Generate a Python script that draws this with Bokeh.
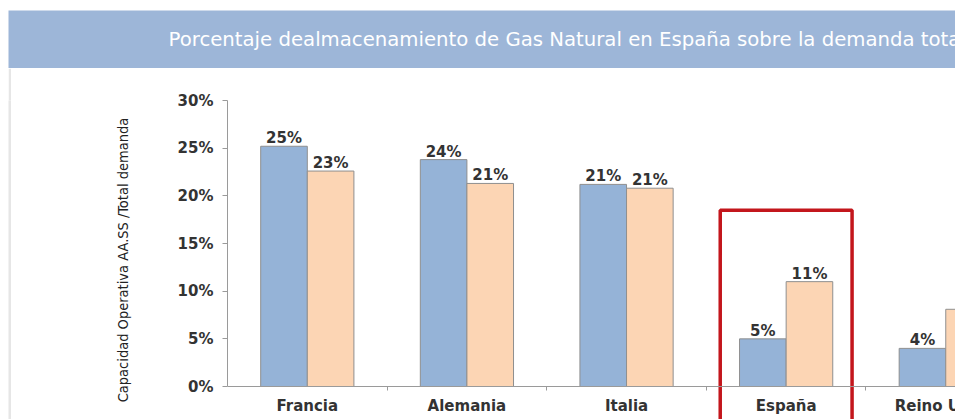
from bokeh.plotting import figure
from bokeh.layouts import column, row
from bokeh.models import (ColumnDataSource, Range1d, FixedTicker, PrintfTickFormatter, Label, Spacer)
from bokeh.transform import dodge
from bokeh.embed import file_html
from bokeh.resources import INLINE

# ---- data ----
title_text = "Porcentaje dealmacenamiento de Gas Natural en España sobre la demanda total"
categories = ["Francia", "Alemania", "Italia", "España", "Reino Unido"]
serie_a = [25.2, 23.8, 21.2, 5.0, 4.0]      # azul
serie_b = [22.6, 21.3, 20.8, 11.0, 8.1]     # naranja
y_ticks = [0, 5, 10, 15, 20, 25, 30]
y_label = "Capacidad Operativa AA.SS /Total demanda"
highlight = "España"
highlight_top = 18.5

BLUE = "#95b3d7"
ORANGE = "#fcd5b4"
BAND = "#9db6d8"
TXT = "#333333"
FONT = "DejaVu Sans"

xs = list(range(len(categories)))
src = ColumnDataSource(dict(
    x=xs, cat=categories, zero=[0] * len(xs), a=serie_a, b=serie_b,
    a_lbl=[f"{round(v)}%" for v in serie_a],
    b_lbl=[f"{round(v)}%" for v in serie_b],
))

# ---- title band ----
top = figure(width=955, height=68, output_backend="svg", toolbar_location=None,
             x_range=Range1d(0, 1), y_range=Range1d(0, 1),
             min_border_top=10, min_border_bottom=0, min_border_left=8, min_border_right=0)
top.axis.visible = False
top.grid.visible = False
top.outline_line_color = None
top.background_fill_color = BAND
top.border_fill_color = "white"
top.add_layout(Label(x=0.169, y=0.5, text=title_text, text_color="white",
                     text_font=FONT, text_font_size="19.7px",
                     text_align="left", text_baseline="middle"))

# ---- left strip ----
strip = figure(width=3, height=351, output_backend="svg", toolbar_location=None,
               min_border=0)
strip.axis.visible = False
strip.grid.visible = False
strip.outline_line_color = None
strip.background_fill_color = "#e6e6e6"
strip.border_fill_color = "#e6e6e6"

# ---- main chart ----
y_start = -3.46
p = figure(width=944, height=351, output_backend="svg", toolbar_location=None,
           x_range=Range1d(-0.5, 4.061), y_range=Range1d(y_start, 30),
           min_border_top=32, min_border_bottom=0, min_border_left=216, min_border_right=0)
p.grid.visible = False
p.outline_line_color = None
p.background_fill_color = "white"
p.border_fill_color = "white"

off = 0.146
bw = 0.292
p.vbar(x=dodge("x", -off), top="a", width=bw, source=src,
       fill_color=BLUE, line_color="#8f8f8f", line_width=1)
p.vbar(x=dodge("x", off), top="b", width=bw, source=src,
       fill_color=ORANGE, line_color="#8f8f8f", line_width=1)

for col, lbl, d in (("a", "a_lbl", -off), ("b", "b_lbl", off)):
    p.text(x=dodge("x", d), y=col, text=lbl, source=src,
           text_align="center", text_baseline="alphabetic", y_offset=-8,
           text_font={"value": FONT}, text_font_style="bold",
           text_font_size={"value": "15px"}, text_color=TXT)

# category labels (drawn as text so the last one is cut at the frame edge)
p.text(x="x", y="zero", text="cat", source=src,
       text_align="center", text_baseline="top", y_offset=10,
       text_font={"value": FONT}, text_font_style="bold",
       text_font_size={"value": "15px"}, text_color=TXT)

hi = categories.index(highlight)
p.quad(left=[hi - 0.413], right=[hi + 0.413], top=[highlight_top], bottom=[y_start - 2],
       fill_color=None, line_color="#c3161c", line_width=3.5)

# y axis
ya = p.yaxis[0]
ya.ticker = FixedTicker(ticks=y_ticks, minor_ticks=[])
ya.bounds = (y_ticks[0], y_ticks[-1])
ya.formatter = PrintfTickFormatter(format="%d%%")
ya.axis_line_color = "#9a9a9a"
ya.major_tick_line_color = "#9a9a9a"
ya.major_tick_out = 5
ya.major_tick_in = 0
ya.minor_tick_line_color = None
ya.major_label_standoff = 9
ya.major_label_text_font = FONT
ya.major_label_text_font_style = "bold"
ya.major_label_text_font_size = "15px"
ya.major_label_text_color = TXT
ya.axis_label = y_label
ya.axis_label_text_font = "DejaVu Sans Condensed"
ya.axis_label_text_font_style = "normal"
ya.axis_label_text_font_size = "14.5px"
ya.axis_label_text_color = "#222222"
ya.axis_label_standoff = 44

# x axis line at 0 with boundary ticks
xa = p.xaxis[0]
xa.fixed_location = 0
xa.ticker = FixedTicker(ticks=[], minor_ticks=[i + 0.5 for i in xs])
xa.axis_line_color = "#9a9a9a"
xa.major_tick_line_color = None
xa.major_tick_out = 0
xa.major_tick_in = 0
xa.minor_tick_line_color = "#9a9a9a"
xa.minor_tick_out = 4
xa.minor_tick_in = 0

layout = column(top, row(Spacer(width=8, height=351), strip, p))
open("out.html", "w").write(file_html(layout, INLINE))
